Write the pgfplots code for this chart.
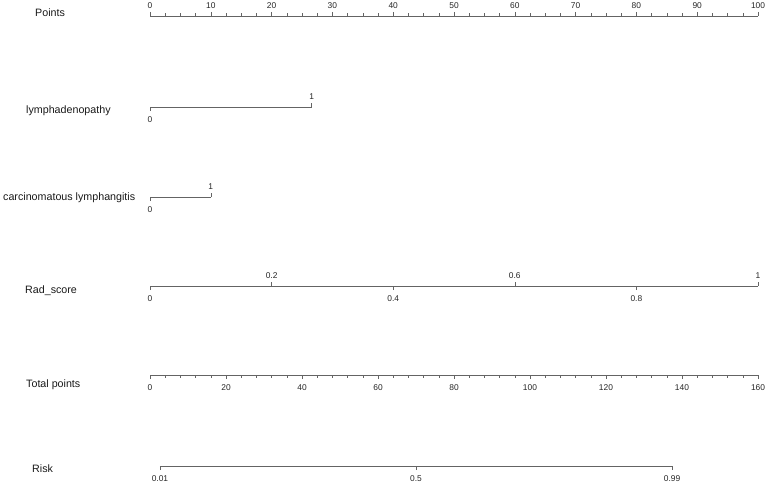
\documentclass[border=0pt]{standalone}
\usepackage{fontspec}
\setmainfont{Liberation Sans}
\usepackage{pgfplots}
\pgfplotsset{compat=1.18}
\definecolor{axgray}{RGB}{100,100,100}

\pgfplotsset{
  nomorow/.style={
    scale only axis, width=608bp, height=1bp,
    ymin=0, ymax=1, enlargelimits=false, clip=false,
    axis y line=none, ytick=\empty,
    /pgf/number format/assume math mode=true,
    tick label style={font=\fontsize{8.4bp}{9bp}\selectfont, text=black!85, inner sep=1bp},
    x axis line style={axgray, line width=0.7bp, -},
    every tick/.style={axgray, line width=0.6bp},
    major tick length=4bp, minor tick length=2.5bp,
    xtick align=outside,
  },
  lowrow/.style={nomorow, axis x line*=bottom, anchor=south west,
    xticklabel style={yshift=-4bp}},
  uprow/.style={nomorow, axis x line*=top, anchor=north west,
    xticklabel style={yshift=2.5bp}},
  noline/.style={x axis line style={draw=none}},
}
\tikzset{rowlab/.style={anchor=base west, inner sep=0pt, text=black!90,
  font=\fontsize{10.7bp}{12bp}\selectfont}}

\begin{document}
\begin{tikzpicture}
\useasboundingbox (0,0) rectangle (767bp,-483bp);

% Points
\begin{axis}[uprow, at={(150bp,-16bp)}, xmin=0, xmax=100,
  xtick={0,10,...,100}, minor x tick num=3]
\node[rowlab] at ([xshift=-115bp] axis description cs:0,1) {Points};
\end{axis}

% lymphadenopathy
\begin{axis}[lowrow, noline, at={(150bp,-107bp)}, xmin=0, xmax=100,
  xtick={0}, xticklabels={0}]
\addplot[axgray, line width=0.7bp] coordinates {(0,0) (26.6,0)};
\node[rowlab] at ([xshift=-124bp, yshift=-6bp] axis description cs:0,0) {lymphadenopathy};
\end{axis}
\begin{axis}[uprow, noline, at={(150bp,-107bp)}, xmin=0, xmax=100,
  xtick={26.6}, xticklabels={1}]
\end{axis}

% carcinomatous lymphangitis
\begin{axis}[lowrow, noline, at={(150bp,-197bp)}, xmin=0, xmax=100,
  xtick={0}, xticklabels={0}]
\addplot[axgray, line width=0.7bp] coordinates {(0,0) (10.0,0)};
\node[rowlab] at ([xshift=-147bp, yshift=-3bp] axis description cs:0,0) {carcinomatous lymphangitis};
\end{axis}
\begin{axis}[uprow, noline, at={(150bp,-197bp)}, xmin=0, xmax=100,
  xtick={10.0}, xticklabels={1}]
\end{axis}

% Rad_score
\begin{axis}[lowrow, at={(150bp,-286bp)}, xmin=0, xmax=1,
  xtick={0,0.4,0.8}, xticklabels={0,0.4,0.8}]
\node[rowlab] at ([xshift=-125bp, yshift=-7bp] axis description cs:0,0) {Rad\_score};
\end{axis}
\begin{axis}[uprow, at={(150bp,-286bp)}, xmin=0, xmax=1,
  xtick={0.2,0.6,1}, xticklabels={0.2,0.6,1}]
\end{axis}

% Total points
\begin{axis}[lowrow, at={(150bp,-375bp)}, xmin=0, xmax=160,
  xtick={0,20,...,160}, minor x tick num=4]
\node[rowlab] at ([xshift=-124bp, yshift=-12bp] axis description cs:0,0) {Total points};
\end{axis}

% Risk (placed on the total points scale)
\begin{axis}[lowrow, noline, at={(150bp,-466bp)}, xmin=0, xmax=160,
  xtick={2.63,70,137.4}, xticklabels={0.01,0.5,0.99}]
\addplot[axgray, line width=0.7bp] coordinates {(2.63,0) (137.4,0)};
\node[rowlab] at ([xshift=-118bp, yshift=-6bp] axis description cs:0,0) {Risk};
\end{axis}
\end{tikzpicture}
\end{document}
